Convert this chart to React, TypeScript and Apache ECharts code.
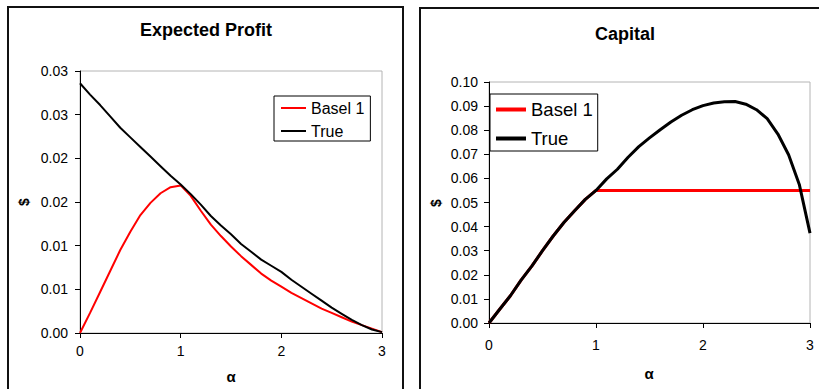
import React, { useEffect, useRef } from "react";
import * as echarts from "echarts";

// alpha grid shared by both panels
const alpha = [
  0, 0.1, 0.2, 0.3, 0.4, 0.5, 0.6, 0.7, 0.8, 0.9, 1.0, 1.1, 1.2, 1.3, 1.4, 1.5,
  1.6, 1.7, 1.8, 1.9, 2.0, 2.1, 2.2, 2.3, 2.4, 2.5, 2.6, 2.7, 2.8, 2.9, 3.0,
];

// Expected profit
const profitBasel = [
  0, 0.0023, 0.0047, 0.0071, 0.0095, 0.0116, 0.0135, 0.0149, 0.016, 0.0167,
  0.0169, 0.0157, 0.014, 0.0124, 0.0111, 0.0099, 0.0088, 0.0078, 0.0068, 0.006,
  0.0053, 0.0046, 0.004, 0.0034, 0.0028, 0.0023, 0.0018, 0.0013, 0.0009,
  0.0005, 0.0001,
];
const profitTrue = [
  0.0286, 0.0273, 0.0261, 0.0248, 0.0235, 0.0224, 0.0213, 0.0202, 0.0191,
  0.018, 0.017, 0.0159, 0.0147, 0.0134, 0.0123, 0.0113, 0.0102, 0.0093,
  0.0084, 0.0077, 0.007, 0.0061, 0.0053, 0.0045, 0.0037, 0.0029, 0.0022,
  0.0015, 0.0009, 0.0004, 0.0001,
];

// Capital
const capitalBasel = [
  0, 0.0057, 0.0113, 0.0178, 0.0236, 0.03, 0.0361, 0.0417, 0.0466, 0.0513,
  0.055, 0.055, 0.055, 0.055, 0.055, 0.055, 0.055, 0.055, 0.055, 0.055, 0.055,
  0.055, 0.055, 0.055, 0.055, 0.055, 0.055, 0.055, 0.055, 0.055, 0.055,
];
const capitalTrue = [
  0, 0.0057, 0.0113, 0.0178, 0.0236, 0.03, 0.0361, 0.0417, 0.0466, 0.0513,
  0.055, 0.0598, 0.0638, 0.0688, 0.0732, 0.0768, 0.0802, 0.0834, 0.0862,
  0.0885, 0.0902, 0.0913, 0.0918, 0.0919, 0.0908, 0.0885, 0.0848, 0.0784,
  0.0698, 0.0575, 0.0373,
];

// tick labels (two-decimal rounding, as printed on the axes)
const xTickLabels = ["0", "1", "2", "3"];
const profitTickLabels = ["0.00", "0.01", "0.01", "0.02", "0.02", "0.03", "0.03"];
const capitalTickLabels = [
  "0.00", "0.01", "0.02", "0.03", "0.04", "0.05", "0.06", "0.07", "0.08", "0.09", "0.10",
];

const seriesNames = ["Basel 1", "True"];
const FONT = '"Liberation Sans", Arial, sans-serif';

const pairs = (ys: number[]) => alpha.map((a, i) => [a, ys[i]]);

function xAxisFor(gridIndex: number, margin: number) {
  return {
    gridIndex,
    type: "value",
    min: 0,
    max: 3,
    interval: 1,
    axisLine: { show: true, onZero: false, lineStyle: { color: "#000", width: 1 } },
    axisTick: { show: true, inside: false, length: 5, lineStyle: { color: "#000" } },
    axisLabel: {
      color: "#000",
      fontSize: 14,
      fontFamily: FONT,
      margin,
      formatter: (v: number) => xTickLabels[Math.round(v)] ?? "",
    },
    splitLine: { show: false },
  };
}

function yAxisFor(gridIndex: number, max: number, step: number, labels: string[], margin: number) {
  return {
    gridIndex,
    type: "value",
    min: 0,
    max,
    interval: step,
    axisLine: { show: true, onZero: false, lineStyle: { color: "#000", width: 1 } },
    axisTick: { show: true, inside: false, length: 5, lineStyle: { color: "#000" } },
    axisLabel: {
      color: "#000",
      fontSize: 14,
      fontFamily: FONT,
      margin,
      formatter: (v: number) => labels[Math.round(v / step)] ?? "",
    },
    splitLine: { show: false },
  };
}

function line(name: string, color: string, width: number, idx: number, ys: number[]) {
  return {
    name,
    type: "line",
    xAxisIndex: idx,
    yAxisIndex: idx,
    data: pairs(ys),
    showSymbol: false,
    symbol: "none",
    smooth: false,
    lineStyle: { color, width },
    itemStyle: { color },
  };
}

export default function App() {
  const ref = useRef<HTMLDivElement>(null);

  useEffect(() => {
    if (!ref.current) return;
    const chart = echarts.init(ref.current, undefined, { renderer: "svg" });

    chart.setOption({
      animation: false,
      backgroundColor: "#fff",
      grid: [
        {
          left: 80, top: 71, width: 302, height: 262,
          show: true, borderColor: "#b4b4b4", borderWidth: 1, backgroundColor: "transparent",
        },
        {
          left: 489, top: 82, width: 321, height: 241,
          show: true, borderColor: "#b4b4b4", borderWidth: 1, backgroundColor: "transparent",
        },
      ],
      xAxis: [xAxisFor(0, 11), xAxisFor(1, 15)],
      yAxis: [
        yAxisFor(0, 0.03, 0.005, profitTickLabels, 12),
        yAxisFor(1, 0.1, 0.01, capitalTickLabels, 11),
      ],
      legend: [
        {
          data: seriesNames,
          orient: "vertical",
          left: 274,
          top: 96,
          itemGap: 7,
          itemWidth: 25,
          itemHeight: 2,
          icon: "rect",
          padding: [4, 6, 2, 7],
          borderColor: "#000",
          borderWidth: 1,
          backgroundColor: "#fff",
          textStyle: { color: "#000", fontSize: 16, fontFamily: FONT },
        },
        {
          data: seriesNames,
          orient: "vertical",
          left: 490,
          top: 94,
          itemGap: 10,
          itemWidth: 30,
          itemHeight: 4,
          icon: "rect",
          padding: [6, 5, 3, 6],
          borderColor: "#000",
          borderWidth: 1,
          backgroundColor: "#fff",
          textStyle: { color: "#000", fontSize: 18.5, fontFamily: FONT },
        },
      ],
      graphic: [
        // panel frames
        {
          type: "rect",
          shape: { x: 8, y: 7, width: 395, height: 420 },
          style: { fill: "none", stroke: "#111", lineWidth: 2 },
          silent: true,
          z: -10,
        },
        {
          type: "rect",
          shape: { x: 420, y: 8, width: 420, height: 420 },
          style: { fill: "none", stroke: "#111", lineWidth: 2 },
          silent: true,
          z: -10,
        },
        // titles
        {
          type: "text", x: 206, y: 30,
          style: {
            text: "Expected Profit", align: "center", verticalAlign: "middle",
            font: `bold 18px ${FONT}`, fill: "#000",
          },
        },
        {
          type: "text", x: 625, y: 34,
          style: {
            text: "Capital", align: "center", verticalAlign: "middle",
            font: `bold 18px ${FONT}`, fill: "#000",
          },
        },
        // axis names
        {
          type: "text", x: 231, y: 376,
          style: { text: "α", align: "center", verticalAlign: "middle", font: `bold 15px ${FONT}`, fill: "#000" },
        },
        {
          type: "text", x: 649, y: 373,
          style: { text: "α", align: "center", verticalAlign: "middle", font: `bold 15px ${FONT}`, fill: "#000" },
        },
        {
          type: "text", x: 24, y: 202, rotation: Math.PI / 2,
          style: { text: "$", align: "center", verticalAlign: "middle", font: `bold 14px ${FONT}`, fill: "#000" },
        },
        {
          type: "text", x: 436, y: 203, rotation: Math.PI / 2,
          style: { text: "$", align: "center", verticalAlign: "middle", font: `bold 14px ${FONT}`, fill: "#000" },
        },
      ],
      series: [
        line("Basel 1", "#ff0000", 2, 0, profitBasel),
        line("True", "#000000", 2, 0, profitTrue),
        line("Basel 1", "#ff0000", 3, 1, capitalBasel),
        line("True", "#000000", 3, 1, capitalTrue),
      ],
    });

    return () => chart.dispose();
  }, []);

  return (
    <div
      ref={ref}
      style={{ position: "fixed", left: 0, top: 0, width: 819, height: 389 }}
    />
  );
}
